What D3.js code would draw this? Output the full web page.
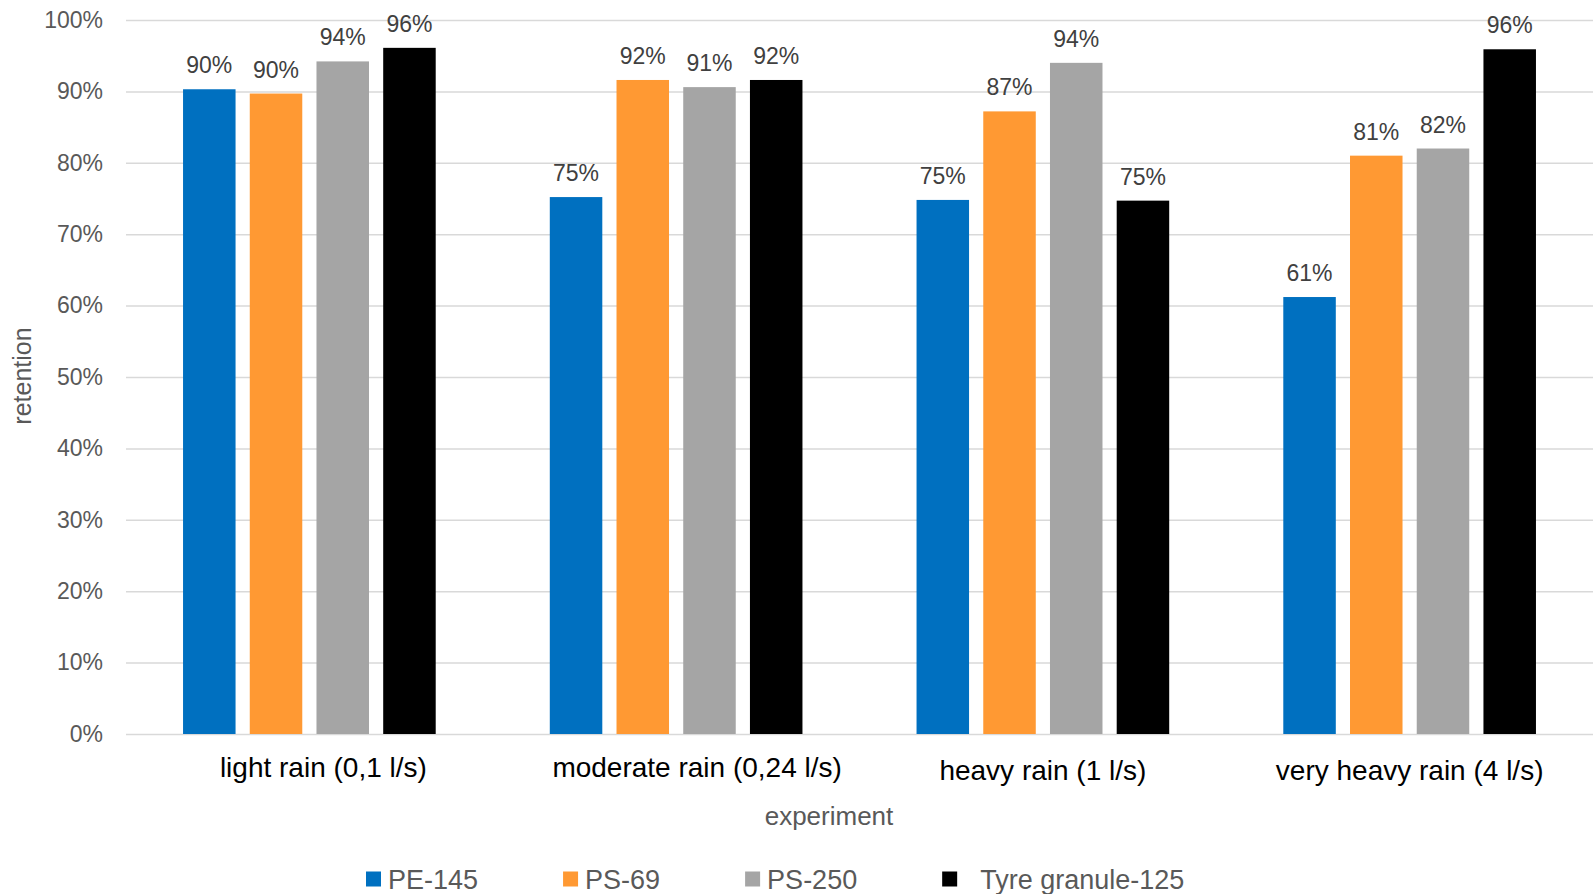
<!DOCTYPE html>
<html>
<head>
<meta charset="utf-8">
<script src="https://cdn.jsdelivr.net/npm/d3@7"></script>
<style>
  html, body { margin: 0; padding: 0; background: #fff; overflow: hidden; }
  svg { display: block; font-family: "Liberation Sans", Arial, sans-serif; }
</style>
</head>
<body>
<svg id="chart" width="1593" height="894"></svg>
<script>
const categories = ["light rain (0,1 l/s)", "moderate rain (0,24 l/s)", "heavy rain (1 l/s)", "very heavy rain (4 l/s)"];
const seriesNames = ["PE-145", "PS-69", "PS-250", "Tyre granule-125"];
const seriesColors = ["#0070C0", "#FF9933", "#A5A5A5", "#000000"];
const pe145 = [0.903, 0.752, 0.748, 0.612];
const ps69 = [0.897, 0.916, 0.872, 0.810];
const ps250 = [0.942, 0.906, 0.940, 0.820];
const tyre125 = [0.961, 0.916, 0.747, 0.959];
const yTicks = [0, 0.1, 0.2, 0.3, 0.4, 0.5, 0.6, 0.7, 0.8, 0.9, 1.0];
const xTitle = "experiment";
const yTitle = "retention";

(function () {
const seriesValues = [pe145, ps69, ps250, tyre125];
// layout nudges for category labels (as placed in the original)
const labelNudgeX = [14, 21, 0, 0];
const labelNudgeY = [-3, -3, 0, 0];

const svg = d3.select("#chart");
const mLeft = 126, mRight = 1593, mTop = 20, mBottom = 734;

const x0 = d3.scaleBand().domain(categories).range([mLeft, mRight]).padding(0);
const x1 = d3.scaleBand().domain(seriesNames).range([0, x0.bandwidth()])
  .paddingInner(0.213).paddingOuter(0.855);
const y = d3.scaleLinear().domain([0, 1]).range([mBottom, mTop]);
const pct = d3.format(".0%");

// gridlines + y axis
const yAxis = d3.axisLeft(y).tickValues(yTicks).tickFormat(pct)
  .tickSize(-(mRight - mLeft)).tickPadding(23);
const gy = svg.append("g").attr("transform", `translate(${mLeft},0)`).call(yAxis);
gy.select(".domain").remove();
gy.selectAll(".tick line").attr("stroke", "#D9D9D9").attr("stroke-width", 1.5);
gy.selectAll(".tick text").attr("fill", "#595959").attr("font-size", 23)
  .attr("font-family", "Liberation Sans, Arial, sans-serif");

// bars
const data = [];
categories.forEach((c, i) => {
  seriesNames.forEach((s, j) => {
    data.push({ cat: c, series: s, color: seriesColors[j], value: seriesValues[j][i] });
  });
});

svg.append("g").selectAll("rect").data(data).join("rect")
  .attr("x", d => x0(d.cat) + x1(d.series))
  .attr("width", x1.bandwidth())
  .attr("y", d => y(d.value))
  .attr("height", d => y(0) - y(d.value))
  .attr("fill", d => d.color);

// data labels
svg.append("g").selectAll("text").data(data).join("text")
  .attr("x", d => x0(d.cat) + x1(d.series) + x1.bandwidth() / 2)
  .attr("y", d => y(d.value) - 16)
  .attr("text-anchor", "middle")
  .attr("font-size", 23)
  .attr("fill", "#404040")
  .text(d => pct(d.value));

// category labels
const xAxis = d3.axisBottom(x0).tickSize(0).tickPadding(0);
const gx = svg.append("g").attr("transform", `translate(0,${mBottom})`).call(xAxis);
gx.select(".domain").remove();
gx.selectAll(".tick text").attr("fill", "#000").attr("font-size", 28)
  .attr("font-family", "Liberation Sans, Arial, sans-serif")
  .attr("dy", null)
  .attr("x", (d, i) => labelNudgeX[i])
  .attr("y", (d, i) => 46 + labelNudgeY[i]);

// axis titles
svg.append("text").attr("x", 829).attr("y", 825).attr("text-anchor", "middle")
  .attr("font-size", 26).attr("fill", "#595959").text(xTitle);
svg.append("text").attr("transform", "translate(31,376) rotate(-90)")
  .attr("text-anchor", "middle").attr("font-size", 25).attr("fill", "#595959").text(yTitle);

// legend
const legend = svg.append("g");
let lx = 366;
seriesNames.forEach((s, j) => {
  const extra = j === 3 ? 16 : 0;
  legend.append("rect").attr("x", lx).attr("y", 871.5).attr("width", 15).attr("height", 15)
    .attr("fill", seriesColors[j]);
  const t = legend.append("text").attr("x", lx + 22 + extra).attr("y", 888.5)
    .attr("font-size", 27).attr("fill", "#595959").text(s);
  lx = lx + 22 + extra + t.node().getComputedTextLength() + 85;
});
})();
</script>
</body>
</html>
